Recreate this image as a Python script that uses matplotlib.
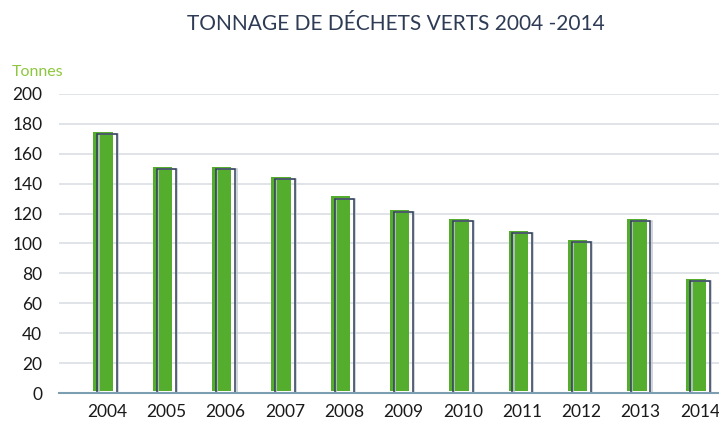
import matplotlib.pyplot as plt
import numpy as np

years = ["2004", "2005", "2006", "2007", "2008", "2009",
         "2010", "2011", "2012", "2013", "2014"]
tonnes = [173, 150, 150, 143, 130, 121, 115, 107, 101, 115, 75]
y_ticks = [0, 20, 40, 60, 80, 100, 120, 140, 160, 180, 200]

plt.rcParams['font.family'] = ['Lato', 'DejaVu Sans']

fig = plt.figure(figsize=(7.19, 4.23), dpi=100)
ax = fig.add_axes([59 / 719, 30 / 423, 660 / 719, 299 / 423])

x = np.arange(len(years))
width = 0.327
shift_x = 0.065   # green face sits a little left and up
shift_y = 1.5

# green face
ax.bar(x - shift_x, tonnes, width, bottom=shift_y, color="#55ad2e",
       zorder=3, linewidth=0)
# light shadow of the outline
ax.bar(x + 0.02, tonnes, width, fill=False,
       edgecolor="#c3c9d3", linewidth=1.1, zorder=3.5)
# dark outline
ax.bar(x, tonnes, width, fill=False, edgecolor="#2f3d58",
       linewidth=1.1, zorder=4)

ax.set_xlim(-0.81, 10.32)
ax.set_ylim(0, 200)
ax.set_yticks(y_ticks)
ax.set_xticks(x)
ax.set_xticklabels(years)
ax.tick_params(axis="both", length=0, labelsize=12.5, colors="#1a1a1a")
ax.tick_params(axis="y", pad=12)
ax.tick_params(axis="x", pad=8)

ax.grid(axis="y", color="#dde2e6", linewidth=1.3, zorder=0)
ax.set_axisbelow(True)
for s in ["top", "right", "left"]:
    ax.spines[s].set_visible(False)
ax.spines["bottom"].set_color("#7d9db0")
ax.spines["bottom"].set_linewidth(1.5)
ax.spines["bottom"].set_zorder(5)

fig.text(12 / 719, 1 - 72 / 423, "Tonnes", color="#8dc63f", fontsize=11.5,
         va="center", ha="left")
fig.text(396 / 719, 1 - 24 / 423, "TONNAGE DE DÉCHETS VERTS 2004 -2014",
         color="#2e3b55", fontsize=15, ha="center", va="center")

fig.savefig("out.png", dpi=100)
